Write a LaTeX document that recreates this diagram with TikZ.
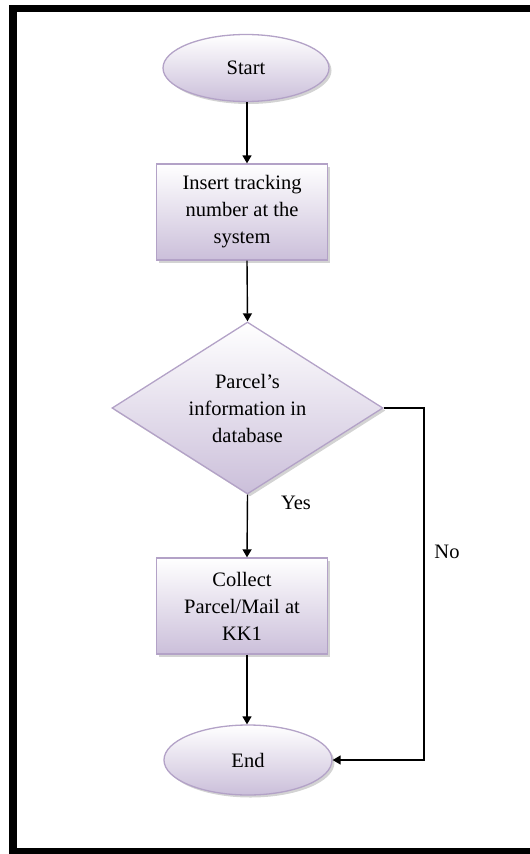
\documentclass[tikz,border=0pt]{standalone}
\usepackage{fontspec}
\setmainfont{Liberation Serif}
\usetikzlibrary{shapes.geometric,shadows,arrows.meta}
\definecolor{boxedge}{HTML}{B3A2C7}
\definecolor{boxbottom}{HTML}{CBBFDA}
\begin{document}
\begin{tikzpicture}[x=1pt,y=-1pt,
  shapebase/.style={draw=boxedge, line width=1.3pt, top color=white, bottom color=boxbottom,
    drop shadow={shadow xshift=2.5pt, shadow yshift=-2.5pt, opacity=0.35, fill=gray},
    font=\fontsize{20.5}{27}\selectfont, align=center, inner sep=0pt},
  terminal/.style={shapebase, ellipse, minimum width=166pt, minimum height=67pt},
  process/.style={shapebase, rectangle, minimum width=171pt, minimum height=96pt},
  decision/.style={shapebase, diamond, aspect=1.58, minimum width=271pt, minimum height=172pt},
  flow/.style={-{Triangle[length=8pt,width=9pt]}, line width=1.4pt},
  lbl/.style={font=\fontsize{20.5}{24}\selectfont, inner sep=0pt}]
\useasboundingbox (0,0) rectangle (530,854);
\begin{scope}
  \clip (0,0) rectangle (530,854);
  \draw[line width=7.5pt] (13,8.5) rectangle (545,851.5);
\end{scope}
\node[terminal] (start) at (246,68) {Start};
\node[process] (insert) at (242,212) {Insert tracking\\number at the\\system};
\node[decision] (check) at (247.5,408) {Parcel’s\\information in\\database};
\node[process] (collect) at (242,606) {Collect\\Parcel/Mail at\\KK1};
\node[terminal, minimum height=70pt, minimum width=168pt] (end) at (248,760) {End};
\coordinate (turnA) at (424,408);
\coordinate (turnB) at (424,760);
\draw[flow] (start.south -| 247,0) -- (247,0 |- insert.north);
\draw[flow] (247,0 |- insert.south) -- (check.north);
\draw[flow] (check.south) -- (247,0 |- collect.north);
\draw[flow] (247,0 |- collect.south) -- (247,0 |- end.north);
\draw[flow] (check.east) -- (turnA) -- (turnB) -- (end.east);
\node[lbl] (yes) at (296,503) {Yes};
\node[lbl] (no) at (447,552) {No};
\end{tikzpicture}
\end{document}
